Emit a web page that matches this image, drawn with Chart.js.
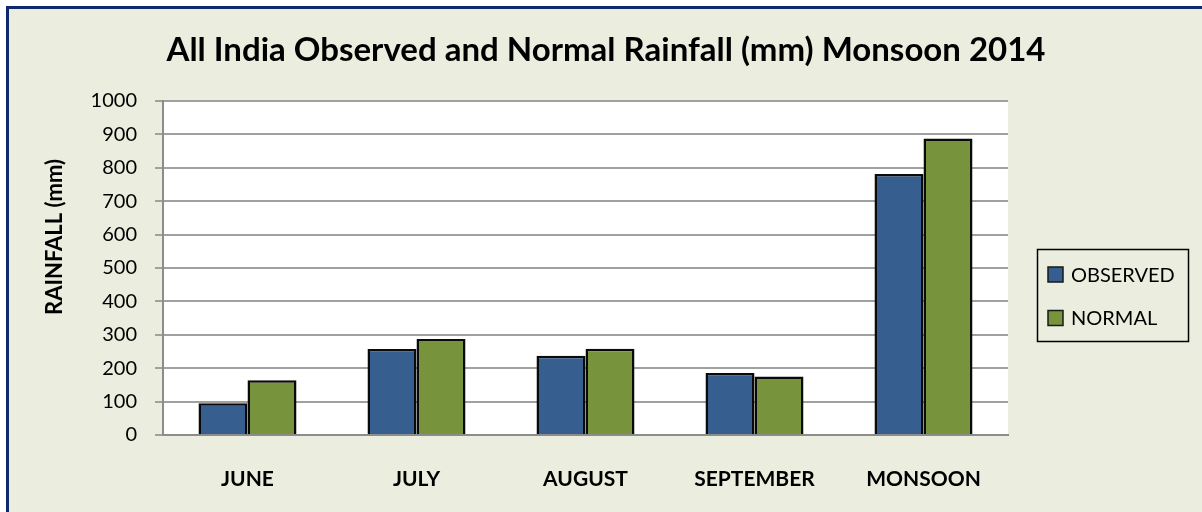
<!DOCTYPE html>
<html>
<head>
<meta charset="utf-8">
<script src="https://cdn.jsdelivr.net/npm/chart.js@4"></script>
<style>
  html, body { margin: 0; padding: 0; background: #ffffff; overflow: hidden; }
  #wrap { width: 1202px; height: 512px; }
</style>
</head>
<body>
<div id="wrap"><canvas id="chart" width="1202" height="512"></canvas></div>
<script>
const months = ["JUNE", "JULY", "AUGUST", "SEPTEMBER", "MONSOON"];
const observed = [95.4, 257.8, 237.6, 186.0, 781.7];
const normal = [163.6, 287.4, 258.2, 174.8, 887.5];
const yTicks = [0, 100, 200, 300, 400, 500, 600, 700, 800, 900, 1000];
const chartTitle = "All India Observed and Normal Rainfall (mm) Monsoon 2014";
const yTitle = "RAINFALL (mm)";

const FONT = "Lato";

// frame, background, titles and the boxed legend
const framePlugin = {
  id: "frame",
  beforeDraw(chart) {
    const ctx = chart.ctx;
    ctx.save();
    ctx.fillStyle = "#ffffff";
    ctx.fillRect(0, 0, chart.width, chart.height);
    ctx.fillStyle = "#ebeedf";
    ctx.fillRect(9, 9, chart.width, chart.height);
    ctx.strokeStyle = "#0e2a6c";
    ctx.lineWidth = 3;
    ctx.strokeRect(7.5, 7.5, chart.width + 20, chart.height + 20);
    const a = chart.chartArea;
    ctx.fillStyle = "#ffffff";
    ctx.fillRect(a.left, a.top, a.right - a.left, a.bottom - a.top);

    ctx.fillStyle = "#000000";
    ctx.font = "bold 33px " + FONT;
    ctx.textAlign = "center";
    ctx.textBaseline = "alphabetic";
    ctx.fillText(chartTitle, 606, 61);

    // axis title sits a bit above the plot's middle, as in the original
    ctx.translate(55, 237);
    ctx.rotate(-Math.PI / 2);
    ctx.font = "bold 22px " + FONT;
    ctx.textBaseline = "middle";
    ctx.fillText(yTitle, 0, 0);
    ctx.restore();
  },
  afterDraw(chart) {
    const ctx = chart.ctx;
    ctx.save();
    ctx.strokeStyle = "#000000";
    ctx.lineWidth = 1.5;
    ctx.strokeRect(1037.5, 249.5, 151, 92);
    ctx.font = "20px " + FONT;
    ctx.textBaseline = "middle";
    chart.data.datasets.forEach((ds, i) => {
      const y = 274.5 + i * 43.5;
      ctx.fillStyle = ds.backgroundColor;
      ctx.fillRect(1048, y - 7.5, 15, 15);
      ctx.strokeStyle = "#1a1a1a";
      ctx.lineWidth = 1.5;
      ctx.strokeRect(1048, y - 7.5, 15, 15);
      ctx.fillStyle = "#000000";
      ctx.fillText(ds.label, 1071, y + 1);
    });
    ctx.restore();
  }
};

new Chart(document.getElementById("chart"), {
  type: "bar",
  data: {
    labels: months,
    datasets: [
      {
        label: "OBSERVED",
        data: observed,
        backgroundColor: "#365f8f",
        borderColor: "#0a0a0a",
        borderWidth: 2.5,
      },
      {
        label: "NORMAL",
        data: normal,
        backgroundColor: "#77933c",
        borderColor: "#0a0a0a",
        borderWidth: 2.5,
      },
    ],
  },
  options: {
    responsive: false,
    animation: false,
    categoryPercentage: 0.58,
    barPercentage: 1.0,
    layout: {
      padding: { left: 0, right: 194, top: 101, bottom: 0 },
    },
    plugins: {
      legend: { display: false },
      tooltip: { enabled: false },
      title: { display: false },
    },
    scales: {
      x: {
        afterFit(scale) {
          scale.height = 77;
        },
        grid: { display: false, drawTicks: false },
        border: { color: "#8c8c8c", width: 2 },
        ticks: {
          color: "#000000",
          font: { family: FONT, size: 21, weight: "bold" },
          padding: 32,
        },
      },
      y: {
        min: 0,
        max: 1000,
        afterBuildTicks(scale) {
          scale.ticks = yTicks.map((v) => ({ value: v }));
        },
        afterFit(scale) {
          scale.width = 163;
        },
        grid: {
          color: "#a0a0a0",
          lineWidth: 2,
          tickLength: 8,
        },
        border: { color: "#8c8c8c", width: 2 },
        ticks: {
          color: "#000000",
          font: { family: FONT, size: 20 },
          padding: 18,
          callback: (v) => String(v),
        },
      },
    },
  },
  plugins: [framePlugin],
});
</script>
</body>
</html>
